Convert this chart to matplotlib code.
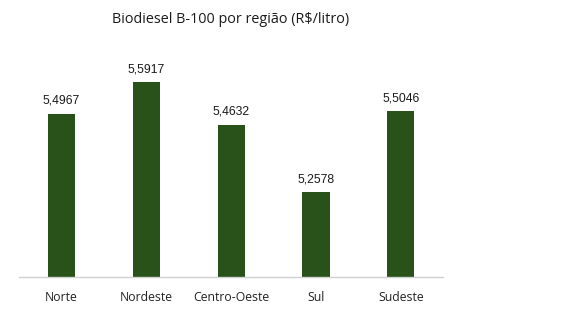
import matplotlib
matplotlib.use('Agg')
import matplotlib.pyplot as plt

# Dados: preço médio do biodiesel B-100 por região
regioes = ['Norte', 'Nordeste', 'Centro-Oeste', 'Sul', 'Sudeste']
precos = [5.4967, 5.5917, 5.4632, 5.2578, 5.5046]
rotulos = ['5,4967', '5,5917', '5,4632', '5,2578', '5,5046']

cor_barra = '#285219'

fig = plt.figure(figsize=(5.66, 3.23), dpi=100)
ax = fig.add_axes([0.0336, 0.1424, 0.7494, 0.713])

x = range(len(regioes))
ax.bar(x, precos, width=0.32, color=cor_barra)

# Rótulos de dados acima das barras
for xi, v, txt in zip(x, precos, rotulos):
    ax.annotate(txt, (xi, v), xytext=(0, 5), textcoords='offset points',
                ha='center', va='bottom', fontsize=8.7, family='Liberation Sans',
                color='#1a1a1a')

ax.set_xlim(-0.5, len(regioes) - 0.5)
ax.set_ylim(5.0, 5.7)
ax.set_xticks(list(x))
ax.set_xticklabels(regioes, fontsize=8.8, family='Open Sans', color='#222222')
ax.tick_params(axis='x', length=0, pad=10)
ax.set_yticks([])

for lado in ['top', 'right', 'left']:
    ax.spines[lado].set_visible(False)
ax.spines['bottom'].set_color('#d0d0d0')
ax.spines['bottom'].set_linewidth(1)

fig.text(0.408, 0.94, 'Biodiesel B-100 por região (R$/litro)', ha='center', va='center',
         fontsize=10.4, family='Open Sans', color='#1a1a1a')

fig.savefig('out.png', dpi=100)
plt.close(fig)
